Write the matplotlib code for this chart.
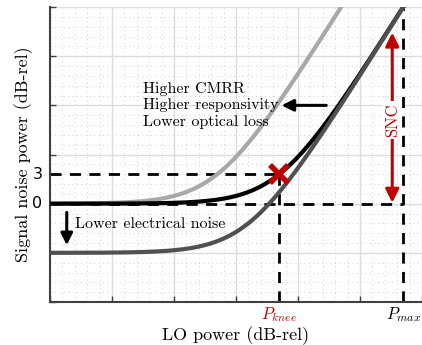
import numpy as np
import matplotlib
matplotlib.use("Agg")
import matplotlib.pyplot as plt
from matplotlib.ticker import MultipleLocator

plt.rcParams["font.family"] = "serif"
plt.rcParams["font.serif"] = ["cmr10", "DejaVu Serif"]
plt.rcParams["mathtext.fontset"] = "cm"
plt.rcParams["axes.unicode_minus"] = False

RED = "#c00000"

# LO power axis (dB-rel) and the knee / max points
x = np.linspace(0, 60, 601)
P_KNEE = 37
P_MAX = 57
SHIFT_BETTER = 10          # higher CMRR / responsivity curve sits 10 dB to the left
EL_NOISE_BASE = 0.0        # electrical noise floor, dB
EL_NOISE_LOW = -5.0        # lower electrical noise floor, dB
SNC_TOP = 17.4

def noise(x, floor, knee):
    return 10 * np.log10(10 ** (floor / 10) + 10 ** ((x - knee) / 10))

y_base = noise(x, EL_NOISE_BASE, P_KNEE)
y_better = noise(x, EL_NOISE_BASE, P_KNEE - SHIFT_BETTER)
y_low_el = noise(x, EL_NOISE_LOW, P_KNEE)

fig = plt.figure(figsize=(4.22, 3.45), dpi=100)
ax = fig.add_axes([0.1185, 0.1246, 0.8815, 0.855])

ax.set_xlim(0, 60)
ax.set_ylim(-10, 20)
ax.xaxis.set_major_locator(MultipleLocator(10))
ax.xaxis.set_minor_locator(MultipleLocator(2))
ax.yaxis.set_major_locator(MultipleLocator(5))
ax.yaxis.set_minor_locator(MultipleLocator(1))
ax.grid(which="major", color="#dcdcdc", lw=1.0)
ax.grid(which="minor", color="#d0d0d0", lw=0.7, ls=(0, (1, 3.5)))
ax.set_axisbelow(True)
ax.tick_params(which="major", direction="in", length=4, width=1, color="#404040",
               labelleft=False, labelbottom=False)
ax.tick_params(which="minor", length=0)
for s in ["top", "right"]:
    ax.spines[s].set_visible(False)
for s in ["left", "bottom"]:
    ax.spines[s].set_color("#404040")
    ax.spines[s].set_linewidth(1.5)

# dashed guides
dash = dict(color="black", lw=2.0, ls=(0, (4, 3)), zorder=2)
ax.plot([0, P_KNEE], [3, 3], **dash)
ax.plot([0, P_MAX], [0, 0], **dash)
ax.plot([P_KNEE, P_KNEE], [-10, 3], **dash)
ax.plot([P_MAX, P_MAX], [-10, 20], **dash)

ax.plot(x, y_better, color="#a8a8a8", lw=3.0, zorder=3, solid_capstyle="butt")
ax.plot(x, y_base, color="black", lw=3.0, zorder=3, solid_capstyle="butt")
ax.plot(x, y_low_el, color="#505050", lw=3.0, zorder=3, solid_capstyle="butt")

ax.plot([P_KNEE], [3], marker="x", color=RED, ms=13, mew=4, zorder=5)

# tick labels
ax.text(-1.2, 0, "0", ha="right", va="center", fontsize=11.5, family="DejaVu Sans")
ax.text(-1.2, 3, "3", ha="right", va="center", fontsize=11.5, family="DejaVu Sans")
ax.text(P_KNEE, -10.3, r"$P_{knee}$", ha="center", va="top", fontsize=12, color=RED)
ax.text(P_MAX, -10.3, r"$P_{max}$", ha="center", va="top", fontsize=12)

ax.set_xlabel("LO power (dB-rel)", fontsize=13, labelpad=14)
ax.set_ylabel("Signal noise power (dB-rel)", fontsize=13, labelpad=9)

# annotations
ax.text(15, 10, "Higher CMRR\nHigher responsivity\nLower optical loss",
        ha="left", va="center", fontsize=11.5, linespacing=1.25, zorder=4)
ax.annotate("", xy=(36.9, 10), xytext=(45, 10),
            arrowprops=dict(arrowstyle="-|>,head_length=0.7,head_width=0.35",
                            color="black", lw=2.2))
ax.annotate("", xy=(2.7, -4.5), xytext=(2.7, -0.6),
            arrowprops=dict(arrowstyle="-|>,head_length=0.7,head_width=0.35",
                            color="black", lw=2.2))
ax.text(4.0, -2.1, "Lower electrical noise", ha="left", va="center", fontsize=11.5)

ax.annotate("", xy=(55.2, 0.1), xytext=(55.2, SNC_TOP),
            arrowprops=dict(arrowstyle="<|-|>,head_length=0.8,head_width=0.4",
                            color=RED, lw=2.2, shrinkA=0, shrinkB=0), zorder=4)
ax.text(55.2, 8.5, "SNC", rotation=90, ha="center", va="center", fontsize=12,
        color=RED, zorder=5,
        bbox=dict(facecolor="white", edgecolor="none", pad=1.5))

fig.savefig("out.png", dpi=100)
